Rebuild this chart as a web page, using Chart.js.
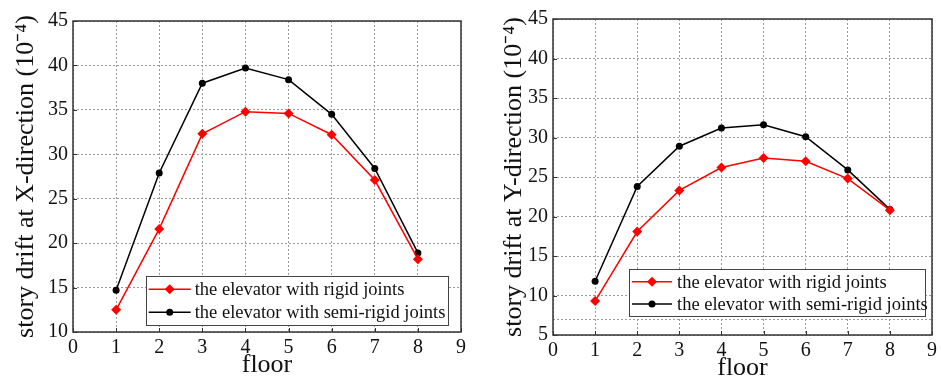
<!DOCTYPE html>
<html lang="en">
<head>
<meta charset="UTF-8">
<title>story drift</title>
<script src="https://cdn.jsdelivr.net/npm/chart.js"></script>
<style>
  body { margin: 0; background: #fff; }
  .wrap { position: relative; width: 941px; height: 381px; }
  #c1 { position: absolute; left: 0; top: 0; }
  #c2 { position: absolute; left: 470px; top: 0; }
</style>
</head>
<body>
<div class="wrap">
  <canvas id="c1" width="470" height="381"></canvas>
  <canvas id="c2" width="471" height="381"></canvas>
</div>
<script>
// data
const floors = [1, 2, 3, 4, 5, 6, 7, 8];
const xRigid = [12.5, 21.6, 32.3, 34.8, 34.6, 32.2, 27.1, 18.2];
const xSemi  = [14.7, 27.9, 38.0, 39.7, 38.4, 34.5, 28.4, 18.9];
const yRigid = [9.3, 18.1, 23.3, 26.2, 27.4, 27.0, 24.8, 20.8];
const ySemi  = [11.8, 23.8, 28.9, 31.2, 31.6, 30.1, 25.9, 20.9];
const labelRigid = 'the elevator with rigid joints';
const labelSemi = 'the elevator with semi-rigid joints';
const xTitle = 'floor';
const yTitleX = 'story drift at X-direction (10\u207B\u2074)';
const yTitleY = 'story drift at Y-direction (10\u207B\u2074)';

const SERIF = '"Liberation Serif", "Times New Roman", serif';

const pts = arr => floors.map((f, i) => ({ x: f, y: arr[i] }));

// frame + inward ticks
const framePlugin = {
  id: 'frame',
  afterDatasetsDraw(chart) {
    const { ctx, chartArea: a, scales } = chart;
    ctx.save();
    ctx.strokeStyle = '#333';
    ctx.lineWidth = 1.5;
    ctx.strokeRect(a.left, a.top, a.right - a.left, a.bottom - a.top);
    ctx.lineWidth = 1;
    scales.x.ticks.forEach(t => {
      const px = Math.round(scales.x.getPixelForValue(t.value)) + 0.5;
      ctx.beginPath(); ctx.moveTo(px, a.bottom); ctx.lineTo(px, a.bottom - 4); ctx.stroke();
    });
    scales.y.ticks.forEach(t => {
      if (t.label === '') return;
      const py = Math.round(scales.y.getPixelForValue(t.value)) + 0.5;
      ctx.beginPath(); ctx.moveTo(a.left, py); ctx.lineTo(a.left + 4, py); ctx.stroke();
    });
    ctx.restore();
  }
};

// legend box inside the plot
const insideLegend = {
  id: 'insideLegend',
  afterDatasetsDraw(chart, args, o) {
    const { ctx, chartArea: a } = chart;
    const x0 = a.left + o.left, x1 = a.right - o.right;
    const y1 = a.bottom - o.bottom, y0 = y1 - o.height;
    ctx.save();
    ctx.fillStyle = '#fff';
    ctx.fillRect(x0, y0, x1 - x0, y1 - y0);
    ctx.strokeStyle = '#444';
    ctx.lineWidth = 1;
    ctx.strokeRect(Math.round(x0) + 0.5, Math.round(y0) + 0.5, Math.round(x1 - x0), Math.round(y1 - y0));
    ctx.font = o.fontSize + 'px ' + SERIF;
    ctx.textBaseline = 'middle';
    chart.data.datasets.forEach((ds, i) => {
      const y = y0 + o.rowTop + i * o.rowGap;
      const lx0 = x0 + o.lineStart, lx1 = lx0 + o.lineLen, mx = (lx0 + lx1) / 2;
      ctx.strokeStyle = ds.borderColor;
      ctx.lineWidth = ds.borderWidth;
      ctx.beginPath(); ctx.moveTo(lx0, y); ctx.lineTo(lx1, y); ctx.stroke();
      ctx.fillStyle = ds.pointBackgroundColor;
      const r = ds.pointRadius;
      ctx.beginPath();
      if (ds.pointStyle === 'rectRot') {
        ctx.moveTo(mx, y - r); ctx.lineTo(mx + r, y); ctx.lineTo(mx, y + r); ctx.lineTo(mx - r, y);
        ctx.closePath();
      } else {
        ctx.arc(mx, y, r, 0, Math.PI * 2);
      }
      ctx.fill();
      ctx.fillStyle = '#111';
      ctx.fillText(ds.label, x0 + o.textStart, y + 1);
    });
    ctx.restore();
  }
};

function makeChart(id, rigid, semi, yTitle, s) {
  return new Chart(document.getElementById(id), {
    type: 'line',
    data: {
      datasets: [
        { label: labelRigid, data: pts(rigid), borderColor: '#ff0000', backgroundColor: '#ff0000',
          pointBackgroundColor: '#ff0000', pointBorderColor: '#ff0000', borderWidth: 1.5,
          pointStyle: 'rectRot', pointRadius: 5, pointBorderWidth: 0, tension: 0 },
        { label: labelSemi, data: pts(semi), borderColor: '#000000', backgroundColor: '#000000',
          pointBackgroundColor: '#000000', pointBorderColor: '#000000', borderWidth: 1.5,
          pointStyle: 'circle', pointRadius: 3.5, pointBorderWidth: 0, tension: 0 }
      ]
    },
    plugins: [framePlugin, insideLegend],
    options: {
      responsive: false,
      animation: false,
      devicePixelRatio: 1,
      layout: { padding: { top: s.padTop, right: s.padRight, left: 0, bottom: 0 } },
      plugins: {
        legend: { display: false },
        tooltip: { enabled: false },
        insideLegend: s.legend
      },
      scales: {
        x: {
          type: 'linear', min: 0, max: 9,
          afterFit: sc => { sc.height = s.xHeight; },
          ticks: { stepSize: 1, padding: 4, color: '#111', font: { family: SERIF, size: 20 } },
          grid: { color: '#9a9a9a', lineWidth: 1, drawTicks: false },
          border: { display: false, dash: [2, 2] },
          title: { display: true, text: xTitle, color: '#111', padding: { top: 0, bottom: 0 },
                   font: { family: SERIF, size: 26, lineHeight: s.xTitleLH } }
        },
        y: {
          type: 'linear', min: s.yMin, max: 45,
          afterFit: sc => { sc.width = s.yWidth; },
          afterBuildTicks: sc => {
            s.extraGrid.forEach(v => sc.ticks.push({ value: v }));
            sc.ticks.sort((p, q) => p.value - q.value);
          },
          ticks: { stepSize: 5, padding: 5, color: '#111', font: { family: SERIF, size: 20 },
                   callback: v => (s.extraGrid.includes(v) ? '' : v) },
          grid: { color: '#9a9a9a', lineWidth: 1, drawTicks: false },
          border: { display: false, dash: [2, 2] },
          title: { display: true, text: yTitle, color: '#111', padding: { top: s.yTitlePad, bottom: 0 },
                   font: { family: SERIF, size: 26 } }
        }
      }
    }
  });
}

makeChart('c1', xRigid, xSemi, yTitleX, {
  padTop: 21, padRight: 6, xHeight: 49, yWidth: 73, yMin: 10, yTitlePad: 11, xTitleLH: 1.2,
  extraGrid: [],
  legend: { left: 73.4, right: 12.3, bottom: 6.7, height: 49, rowTop: 13, rowGap: 23,
            lineStart: 2.3, lineLen: 42, textStart: 48.3, fontSize: 18.5 }
});

makeChart('c2', yRigid, ySemi, yTitleY, {
  padTop: 19, padRight: 6, xHeight: 46, yWidth: 83, yMin: 5, yTitlePad: 29, xTitleLH: 1.0,
  extraGrid: [7],
  legend: { left: 76, right: 7, bottom: 19, height: 47, rowTop: 12.7, rowGap: 22.3,
            lineStart: 3, lineLen: 40, textStart: 48, fontSize: 18.5 }
});
</script>
</body>
</html>
